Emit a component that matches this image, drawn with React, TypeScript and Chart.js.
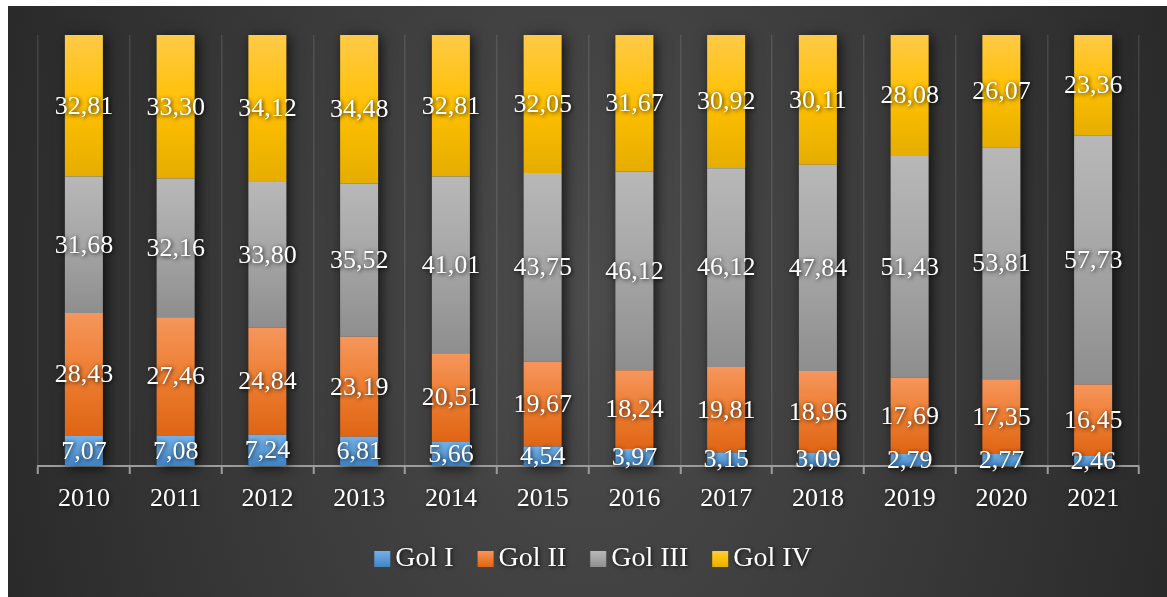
import React, { useEffect, useRef } from "react";
import { Chart, registerables } from "chart.js";

Chart.register(...registerables);

const years = ["2010", "2011", "2012", "2013", "2014", "2015", "2016", "2017", "2018", "2019", "2020", "2021"];
const golI = [7.07, 7.08, 7.24, 6.81, 5.66, 4.54, 3.97, 3.15, 3.09, 2.79, 2.77, 2.46];
const golII = [28.43, 27.46, 24.84, 23.19, 20.51, 19.67, 18.24, 19.81, 18.96, 17.69, 17.35, 16.45];
const golIII = [31.68, 32.16, 33.8, 35.52, 41.01, 43.75, 46.12, 46.12, 47.84, 51.43, 53.81, 57.73];
const golIV = [32.81, 33.3, 34.12, 34.48, 32.81, 32.05, 31.67, 30.92, 30.11, 28.08, 26.07, 23.36];
const seriesNames = ["Gol I", "Gol II", "Gol III", "Gol IV"];
const seriesData = [golI, golII, golIII, golIV];

const gradStops: string[][] = [
  ["#72b0ea", "#5b9bd5", "#3f83c8"],
  ["#f5965c", "#ed7d31", "#df6514"],
  ["#b8b8b8", "#a5a5a5", "#8e8e8e"],
  ["#ffca48", "#ffc000", "#e6ad00"],
];

const FONT = "'Liberation Serif', 'DejaVu Serif', serif";

function makeGrad(ctx: CanvasRenderingContext2D, top: number, bottom: number, stops: string[]) {
  const g = ctx.createLinearGradient(0, top, 0, bottom);
  g.addColorStop(0, stops[0]);
  g.addColorStop(0.5, stops[1]);
  g.addColorStop(1, stops[2]);
  return g;
}

const fmt = (v: number) => v.toFixed(2).replace(".", ",");

function setShadow(ctx: CanvasRenderingContext2D) {
  ctx.shadowColor = "rgba(0,0,0,0.85)";
  ctx.shadowBlur = 4;
  ctx.shadowOffsetX = 1;
  ctx.shadowOffsetY = 1;
}

const barShadowPlugin = {
  id: "barShadow",
  beforeDatasetsDraw(chart: any) {
    const ctx = chart.ctx;
    const first = chart.getDatasetMeta(0).data;
    const last = chart.getDatasetMeta(seriesData.length - 1).data;
    ctx.save();
    ctx.shadowColor = "rgba(0,0,0,0.7)";
    ctx.shadowBlur = 12;
    ctx.shadowOffsetX = 3;
    ctx.shadowOffsetY = 2;
    ctx.fillStyle = "#333";
    for (let i = 0; i < first.length; i++) {
      const b = first[i];
      const t = last[i];
      const w = b.width;
      ctx.fillRect(b.x - w / 2, t.y, w, b.base - t.y);
    }
    ctx.restore();
  },
};

const labelsPlugin = {
  id: "customLabels",
  afterDatasetsDraw(chart: any) {
    const ctx = chart.ctx;
    ctx.save();
    setShadow(ctx);
    ctx.fillStyle = "#ffffff";
    ctx.font = `26px ${FONT}`;
    ctx.textAlign = "center";
    ctx.textBaseline = "middle";
    seriesData.forEach((arr, di) => {
      const meta = chart.getDatasetMeta(di);
      meta.data.forEach((el: any, i: number) => {
        const yc = (el.y + el.base) / 2 + 1;
        ctx.fillText(fmt(arr[i]), el.x, yc);
      });
    });
    ctx.restore();
  },
  afterDraw(chart: any) {
    const ctx = chart.ctx;
    const xs = chart.scales.x;
    ctx.save();
    setShadow(ctx);
    ctx.fillStyle = "#ffffff";
    ctx.font = `26px ${FONT}`;
    ctx.textAlign = "center";
    ctx.textBaseline = "middle";
    years.forEach((y, i) => {
      ctx.fillText(y, xs.getPixelForValue(i), chart.chartArea.bottom + 33);
    });

    // legend
    ctx.font = `28px ${FONT}`;
    const box = 16;
    const gapBoxText = 5;
    const gapItems = 24;
    ctx.textAlign = "left";
    ctx.textBaseline = "alphabetic";
    const widths = seriesNames.map((n) => ctx.measureText(n).width);
    const total = widths.reduce((a, w) => a + box + gapBoxText + w, 0) + gapItems * (seriesNames.length - 1);
    let x = 585 - total / 2;
    const baseY = 560;
    seriesNames.forEach((n, k) => {
      ctx.save();
      ctx.shadowColor = "transparent";
      ctx.fillStyle = makeGrad(ctx, baseY - 15, baseY + 1, gradStops[k]);
      ctx.fillRect(x, baseY - 15, box, box);
      ctx.restore();
      ctx.fillStyle = "#ffffff";
      ctx.fillText(n, x + box + gapBoxText, baseY);
      x += box + gapBoxText + widths[k] + gapItems;
    });
    ctx.restore();
  },
};

export default function App() {
  const ref = useRef<HTMLCanvasElement | null>(null);
  useEffect(() => {
    if (!ref.current) return;
    const chart = new Chart(ref.current, {
      type: "bar",
      data: {
        labels: years,
        datasets: seriesData.map((arr, di) => ({
          label: seriesNames[di],
          data: arr,
          borderWidth: 0,
          categoryPercentage: 1,
          barPercentage: 0.414,
          backgroundColor: (c: any) => {
            const stops = gradStops[di];
            if (c.type !== "data") return stops[1];
            const ys = c.chart.scales.y;
            if (!ys) return stops[1];
            const i = c.dataIndex;
            let start = 0;
            for (let k = 0; k < di; k++) start += seriesData[k][i];
            const end = start + arr[i];
            const top = ys.getPixelForValue(end);
            const bot = ys.getPixelForValue(start);
            if (!isFinite(top) || !isFinite(bot) || top === bot) return stops[1];
            return makeGrad(c.chart.ctx, top, bot, stops);
          },
        })),
      },
      options: {
        animation: false,
        responsive: true,
        maintainAspectRatio: false,
        layout: { padding: { left: 30, right: 28, top: 29, bottom: 71 } },
        plugins: {
          legend: { display: false },
          tooltip: { enabled: false },
        },
        scales: {
          x: {
            stacked: true,
            grid: {
              display: true,
              offset: true,
              color: "rgba(255,255,255,0.11)",
              lineWidth: 1.5,
              tickColor: "#9c9c9c",
              tickLength: 8,
              tickWidth: 2,
            },
            border: { display: true, color: "#9c9c9c", width: 2 },
            ticks: { display: false },
            afterFit: (s: any) => {
              s.height = 60;
            },
          },
          y: {
            stacked: true,
            display: false,
            min: 0,
            max: 100,
          },
        },
      },
      plugins: [barShadowPlugin, labelsPlugin],
    });
    return () => chart.destroy();
  }, []);

  return (
    <div
      style={{
        position: "absolute",
        left: 8,
        top: 6,
        width: 1159,
        height: 591,
        background: "radial-gradient(ellipse 58% 180% at 50% 50%, #4c4c4c 0%, #3c3c3c 45%, #262626 100%)",
      }}
    >
      <canvas ref={ref} />
    </div>
  );
}
